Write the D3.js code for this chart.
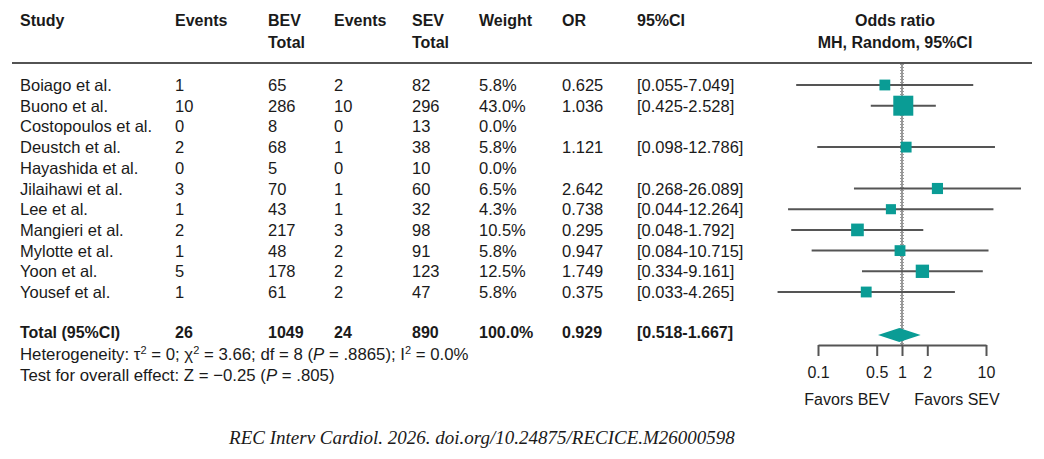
<!DOCTYPE html>
<html>
<head>
<meta charset="utf-8">
<script src="https://cdn.jsdelivr.net/npm/d3@7"></script>
<style>
  body { margin: 0; background: #fff; }
  text { font-family: "Liberation Sans", Arial, Helvetica, sans-serif; fill: #1a1a1a; }
</style>
</head>
<body>
<div id="chart"></div>
<script>
// data
const studies = ['Boiago et al.', 'Buono et al.', 'Costopoulos et al.', 'Deustch et al.', 'Hayashida et al.',
  'Jilaihawi et al.', 'Lee et al.', 'Mangieri et al.', 'Mylotte et al.', 'Yoon et al.', 'Yousef et al.'];
const bevEvents = [1, 10, 0, 2, 0, 3, 1, 2, 1, 5, 1];
const bevTotal = [65, 286, 8, 68, 5, 70, 43, 217, 48, 178, 61];
const sevEvents = [2, 10, 0, 1, 0, 1, 1, 3, 2, 2, 2];
const sevTotal = [82, 296, 13, 38, 10, 60, 32, 98, 91, 123, 47];
const weights = [5.8, 43.0, 0.0, 5.8, 0.0, 6.5, 4.3, 10.5, 5.8, 12.5, 5.8];
const oddsRatio = [0.625, 1.036, null, 1.121, null, 2.642, 0.738, 0.295, 0.947, 1.749, 0.375];
const ciLow = [0.055, 0.425, null, 0.098, null, 0.268, 0.044, 0.048, 0.084, 0.334, 0.033];
const ciHigh = [7.049, 2.528, null, 12.786, null, 26.089, 12.264, 1.792, 10.715, 9.161, 4.265];
const total = { bevEvents: 26, bevTotal: 1049, sevEvents: 24, sevTotal: 890, weight: 100.0, or: 0.929, low: 0.518, high: 1.667 };
const axisTicks = [0.1, 0.5, 1, 2, 10];

const width = 1044, height = 459;
const teal = '#0a9c95', lineCol = '#555';

const svg = d3.select('#chart')
  .append('svg')
  .attr('width', width)
  .attr('height', height);

// scales
const x = d3.scaleLog().domain([0.1, 10]).range([818, 986]);
const y = d3.scalePoint().domain(studies).range([85, 292]);
const boxSize = d3.scaleSqrt().domain([0, 43]).range([5.5, 20]);
const fmt3 = d3.format('.3f');
const pct = d => d3.format('.1f')(d) + '%';

// columns of the table
const cols = [
  { x: 20, head: ['Study'], val: i => studies[i] },
  { x: 175, head: ['Events'], val: i => bevEvents[i] },
  { x: 268, head: ['BEV', 'Total'], val: i => bevTotal[i] },
  { x: 334, head: ['Events'], val: i => sevEvents[i] },
  { x: 412, head: ['SEV', 'Total'], val: i => sevTotal[i] },
  { x: 479, head: ['Weight'], val: i => pct(weights[i]) },
  { x: 562, head: ['OR'], val: i => oddsRatio[i] == null ? '' : fmt3(oddsRatio[i]) },
  { x: 637, head: ['95%CI'], val: i => ciLow[i] == null ? '' : `[${fmt3(ciLow[i])}-${fmt3(ciHigh[i])}]` },
];

// header
cols.forEach(c => {
  c.head.forEach((h, k) => {
    svg.append('text')
      .attr('x', c.x).attr('y', 26 + k * 22)
      .style('font-size', '16px').style('font-weight', 'bold')
      .text(h);
  });
});
svg.append('text').attr('x', 895).attr('y', 26).attr('text-anchor', 'middle')
  .style('font-size', '16px').style('font-weight', 'bold').text('Odds ratio');
svg.append('text').attr('x', 895).attr('y', 48).attr('text-anchor', 'middle')
  .style('font-size', '16px').style('font-weight', 'bold').text('MH, Random, 95%CI');

svg.append('line')
  .attr('x1', 12).attr('x2', 1032).attr('y1', 63).attr('y2', 63)
  .attr('stroke', '#1a1a1a').attr('stroke-width', 1.5);

// study rows
const rows = svg.append('g').selectAll('g.row')
  .data(studies)
  .join('g')
  .attr('class', 'row');

cols.forEach(c => {
  rows.append('text')
    .attr('x', c.x)
    .attr('y', d => y(d) + 6)
    .style('font-size', '16.5px')
    .text((d, i) => c.val(i));
});

// total row
const totalVals = ['Total (95%CI)', total.bevEvents, total.bevTotal, total.sevEvents, total.sevTotal,
  pct(total.weight), fmt3(total.or), `[${fmt3(total.low)}-${fmt3(total.high)}]`];
cols.forEach((c, k) => {
  svg.append('text')
    .attr('x', c.x).attr('y', 338)
    .style('font-size', '16px').style('font-weight', 'bold')
    .text(totalVals[k]);
});

// heterogeneity / overall effect
const het = svg.append('text').attr('x', 20).attr('y', 360).style('font-size', '16.8px');
het.append('tspan').text('Heterogeneity: \u03c4');
het.append('tspan').attr('dy', -6).style('font-size', '11px').text('2');
het.append('tspan').attr('dy', 6).text(' = 0; \u03c7');
het.append('tspan').attr('dy', -6).style('font-size', '11px').text('2');
het.append('tspan').attr('dy', 6).text(' = 3.66; df = 8 (');
het.append('tspan').style('font-style', 'italic').text('P');
het.append('tspan').text(' = .8865); I');
het.append('tspan').attr('dy', -6).style('font-size', '11px').text('2');
het.append('tspan').attr('dy', 6).text(' = 0.0%');

const eff = svg.append('text').attr('x', 20).attr('y', 381).style('font-size', '16.8px');
eff.append('tspan').text('Test for overall effect: Z = \u22120.25 (');
eff.append('tspan').style('font-style', 'italic').text('P');
eff.append('tspan').text(' = .805)');

// forest plot
const plot = svg.append('g');

// line of no effect
plot.append('line')
  .attr('x1', x(1)).attr('x2', x(1)).attr('y1', 64).attr('y2', 345)
  .attr('stroke', '#777').attr('stroke-width', 1.5);
plot.append('line')
  .attr('x1', x(1)).attr('x2', x(1)).attr('y1', 64).attr('y2', 345)
  .attr('stroke', '#999').attr('stroke-width', 4).attr('stroke-dasharray', '1,2');

// confidence intervals
const idx = d3.range(studies.length).filter(i => oddsRatio[i] != null);
plot.selectAll('line.ci')
  .data(idx)
  .join('line')
  .attr('class', 'ci')
  .attr('x1', i => x(ciLow[i])).attr('x2', i => x(ciHigh[i]))
  .attr('y1', i => y(studies[i])).attr('y2', i => y(studies[i]))
  .attr('stroke', lineCol).attr('stroke-width', 2);

plot.selectAll('rect.box')
  .data(idx)
  .join('rect')
  .attr('class', 'box')
  .attr('x', i => x(oddsRatio[i]) - boxSize(weights[i]) / 2)
  .attr('y', i => y(studies[i]) - boxSize(weights[i]) / 2)
  .attr('width', i => boxSize(weights[i]))
  .attr('height', i => boxSize(weights[i]))
  .attr('fill', teal);

// pooled diamond
const dy = 335;
plot.append('path')
  .attr('d', `M${x(total.low)},${dy} L${x(total.or)},${dy - 7} L${x(total.high)},${dy} L${x(total.or)},${dy + 7} Z`)
  .attr('fill', teal);

// axis
const axis = d3.axisBottom(x)
  .tickValues(axisTicks)
  .tickFormat(d3.format('~g'))
  .tickSize(11)
  .tickSizeOuter(0)
  .tickPadding(11);

const axisG = plot.append('g')
  .attr('transform', 'translate(0,345)')
  .call(axis);
axisG.select('.domain').attr('stroke', lineCol).attr('stroke-width', 2);
axisG.selectAll('.tick line').attr('stroke', lineCol).attr('stroke-width', 2);
axisG.selectAll('.tick text')
  .style('font-size', '16px')
  .style('font-family', '"Liberation Sans", Arial, sans-serif')
  .attr('fill', '#1a1a1a');

plot.append('text').attr('x', 847).attr('y', 405).attr('text-anchor', 'middle')
  .style('font-size', '16px').text('Favors BEV');
plot.append('text').attr('x', 957).attr('y', 405).attr('text-anchor', 'middle')
  .style('font-size', '16px').text('Favors SEV');

// caption
svg.append('text')
  .attr('x', 482).attr('y', 444).attr('text-anchor', 'middle')
  .style('font-family', '"Liberation Serif", "DejaVu Serif", serif')
  .style('font-style', 'italic')
  .style('font-size', '19px')
  .text('REC Interv Cardiol. 2026. doi.org/10.24875/RECICE.M26000598');
</script>
</body>
</html>
